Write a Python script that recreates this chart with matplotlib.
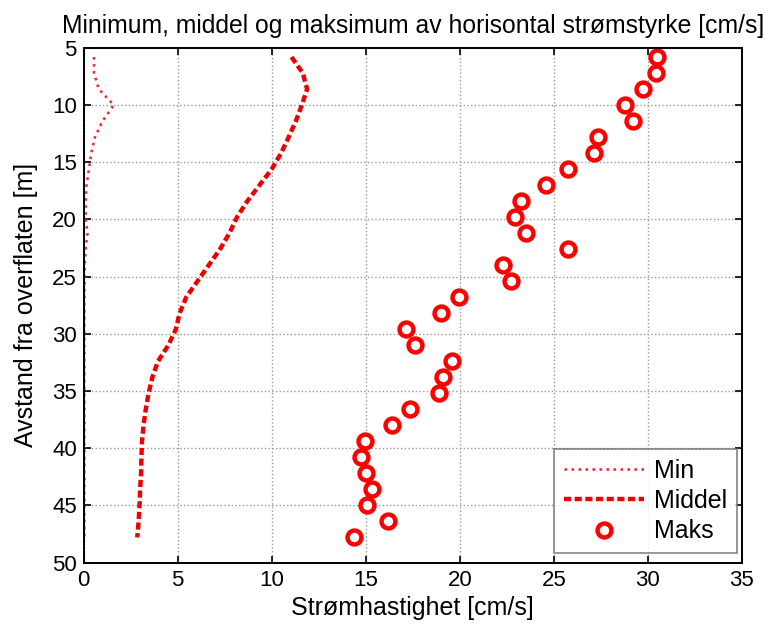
import matplotlib
matplotlib.use("Agg")
import matplotlib.pyplot as plt

plt.rcParams['font.family'] = ['Liberation Sans', 'DejaVu Sans']

depth = [5.8, 7.2, 8.6, 10.0, 11.4, 12.8, 14.2, 15.6, 17.0, 18.4, 19.8, 21.2,
         22.6, 24.0, 25.4, 26.8, 28.2, 29.6, 31.0, 32.4, 33.8, 35.2, 36.6, 38.0,
         39.4, 40.8, 42.2, 43.6, 45.0, 46.4, 47.8]
v_min = [0.55, 0.55, 0.8, 1.6, 1.0, 0.6, 0.4, 0.28, 0.15, 0.1, 0.1, 0.2,
         0.1, 0.05, 0.04, 0.03, 0.03, 0.03, 0.03, 0.03, 0.03, 0.03, 0.03, 0.03,
         0.03, 0.03, 0.03, 0.03, 0.03, 0.03, 0.03]
v_mean = [11.05, 11.65, 11.88, 11.6, 11.28, 10.9, 10.5, 10.0, 9.35, 8.7, 8.15, 7.75,
          7.25, 6.65, 6.05, 5.45, 5.1, 4.9, 4.5, 3.95, 3.65, 3.45, 3.3, 3.18,
          3.1, 3.07, 3.05, 3.0, 2.97, 2.92, 2.85]
v_max = [30.46, 30.43, 29.75, 28.8, 29.2, 27.34, 27.13, 25.74, 24.59, 23.24, 22.93, 23.5,
         25.76, 22.3, 22.7, 19.97, 18.99, 17.14, 17.64, 19.56, 19.13, 18.88, 17.34, 16.4,
         14.95, 14.73, 15.0, 15.34, 15.04, 16.17, 14.38]

xticks = [0, 5, 10, 15, 20, 25, 30, 35]
yticks = [5, 10, 15, 20, 25, 30, 35, 40, 45, 50]

fig = plt.figure(figsize=(7.68, 6.3), dpi=100)
ax = fig.add_axes([0.109, 0.107, 0.857, 0.817])

ax.plot(v_min, depth, linestyle=':', color='#e8303c', lw=1.9, label='Min')
ax.plot(v_mean, depth, linestyle=(0, (1.6, 0.8)), color='#ee0000', lw=3.2, label='Middel')
ax.plot(v_max, depth, linestyle='none', marker='o', markersize=10, markerfacecolor='white',
        markeredgecolor='#ff0000', markeredgewidth=3.2, label='Maks')

ax.set_xlim(0, 35)
ax.set_ylim(50, 5)
ax.set_xticks(xticks)
ax.set_yticks(yticks)
ax.tick_params(direction='in', top=True, right=True, labelsize=16, length=5, width=1.2, pad=5)
ax.grid(True, linestyle=':', color='#999999', lw=1.0)
for s in ax.spines.values():
    s.set_linewidth(1.4)

ax.set_title('Minimum, middel og maksimum av horisontal strømstyrke [cm/s]', fontsize=17.8, pad=11)
ax.set_xlabel('Strømhastighet [cm/s]', fontsize=18, labelpad=4)
ax.set_ylabel('Avstand fra overflaten [m]', fontsize=18, labelpad=10)

leg = ax.legend(loc='lower right', bbox_to_anchor=(0.9924, 0.018), borderaxespad=0,
                fontsize=18, frameon=True, fancybox=False, edgecolor='#666666',
                handlelength=3.2, handletextpad=0.4, borderpad=0.4, labelspacing=0.25)
leg.get_frame().set_linewidth(1.2)

fig.savefig('out.png', dpi=100)
